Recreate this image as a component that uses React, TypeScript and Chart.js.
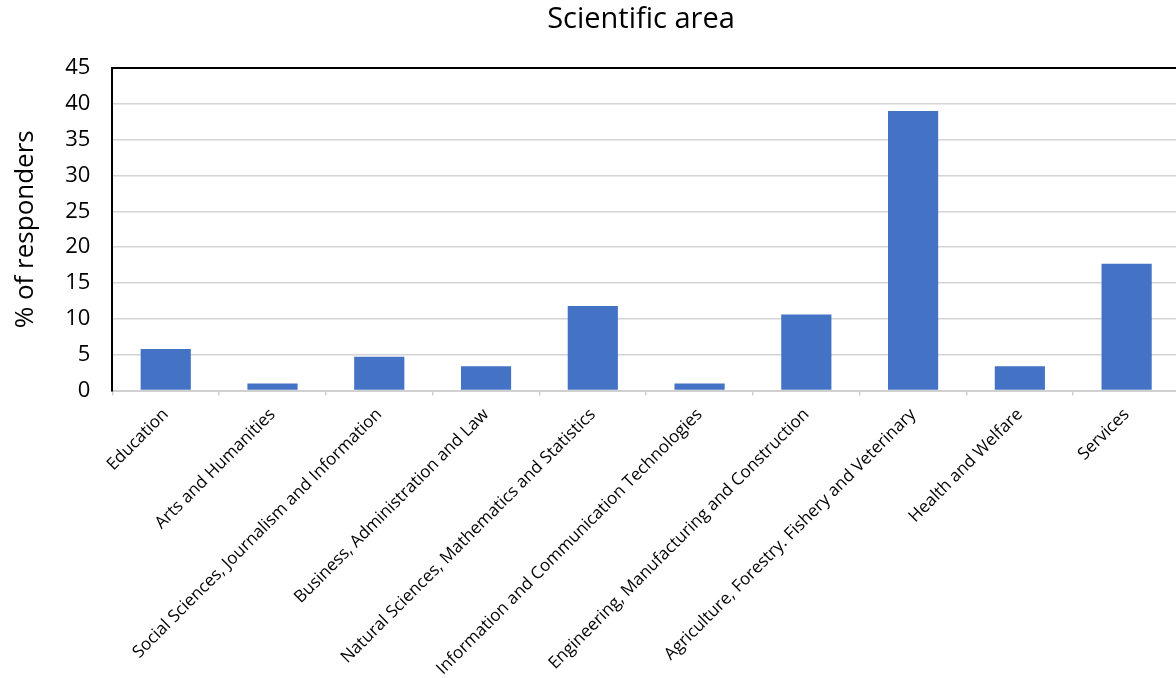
import React, { useEffect, useRef } from "react";
import { Chart, registerables } from "chart.js";

Chart.register(...registerables);

// Share of responders per scientific area (%)
const categories = [
  "Education",
  "Arts and Humanities",
  "Social Sciences, Journalism and Information",
  "Business, Administration and Law",
  "Natural Sciences, Mathematics and Statistics",
  "Information and Communication Technologies",
  "Engineering, Manufacturing and Construction",
  "Agriculture, Forestry. Fishery and Veterinary",
  "Health and Welfare",
  "Services",
];
const responders = [5.8, 1.0, 4.7, 3.4, 11.8, 1.0, 10.6, 39.0, 3.4, 17.7];
const yMin = 0;
const yMax = 45;
const yStep = 5;

const chartTitle = "Scientific area";
const yAxisTitle = "% of responders";

const FONT = "'Open Sans', 'Noto Sans', sans-serif";

// Draws the chart heading at a fixed spot above the plot
const headingPlugin = {
  id: "heading",
  afterDraw(chart: any, _args: any, opts: any) {
    const { ctx } = chart;
    ctx.save();
    ctx.font = `29px ${FONT}`;
    ctx.fillStyle = "#000";
    ctx.textAlign = "center";
    ctx.textBaseline = "middle";
    ctx.fillText(opts.text, opts.x, opts.y);
    ctx.restore();
  },
};

export default function App() {
  const canvasRef = useRef<HTMLCanvasElement | null>(null);

  useEffect(() => {
    if (!canvasRef.current) return;
    const chart = new Chart(canvasRef.current, {
      type: "bar",
      data: {
        labels: categories,
        datasets: [
          {
            data: responders,
            backgroundColor: "#4472C4",
            borderWidth: 0,
            barPercentage: 0.47,
            categoryPercentage: 1.0,
          },
        ],
      },
      plugins: [headingPlugin],
      options: {
        responsive: false,
        animation: false,
        layout: { padding: { top: 68, left: 10, right: 20, bottom: 2 } },
        plugins: {
          legend: { display: false },
          tooltip: { enabled: false },
          title: { display: false },
          heading: { text: chartTitle, x: 641, y: 20 },
        } as any,
        scales: {
          x: {
            type: "category",
            offset: true,
            grid: {
              offset: true,
              drawOnChartArea: false,
              drawTicks: true,
              tickLength: 5,
              color: "#d0d0d0",
              lineWidth: 1.5,
            },
            border: { color: "#d0d0d0", width: 2 },
            ticks: {
              autoSkip: false,
              minRotation: 45,
              maxRotation: 45,
              padding: 9,
              color: "#000",
              font: { family: FONT, size: 17 },
            },
          },
          y: {
            min: yMin,
            max: yMax,
            ticks: {
              stepSize: yStep,
              padding: 22,
              color: "#000",
              font: { family: FONT, size: 22 },
            },
            grid: {
              drawTicks: false,
              color: (c: any) => (c.tick && c.tick.value === yMax ? "#000" : "#d4d4d4"),
              lineWidth: (c: any) => (c.tick && c.tick.value === yMax ? 2 : 1.5),
            },
            border: { color: "#000", width: 2 },
            title: {
              display: true,
              text: yAxisTitle,
              color: "#000",
              font: { family: FONT, size: 26 },
              padding: { top: 0, bottom: 2 },
            },
          },
        },
      },
    });
    return () => chart.destroy();
  }, []);

  return (
    <div
      style={{
        position: "fixed",
        left: 0,
        top: 0,
        width: 1176,
        height: 678,
        overflow: "hidden",
        background: "#fff",
      }}
    >
      <canvas
        ref={canvasRef}
        width={1200}
        height={690}
        style={{ width: 1200, height: 690, display: "block" }}
      />
    </div>
  );
}
